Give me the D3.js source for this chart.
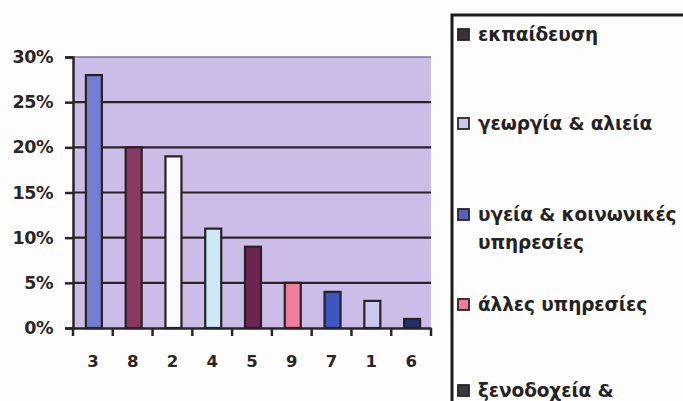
<!DOCTYPE html>
<html>
<head>
<meta charset="utf-8">
<script src="https://cdn.jsdelivr.net/npm/d3@7/dist/d3.min.js"></script>
<style>
  html, body { margin: 0; padding: 0; background: #fdfdfd; }
  svg { display: block; }
</style>
</head>
<body>
<svg id="chart" width="683" height="401"></svg>
<script>
// Sector codes along the x axis and their shares
const categories = ["3", "8", "2", "4", "5", "9", "7", "1", "6"];
const shares = [0.28, 0.20, 0.19, 0.11, 0.09, 0.05, 0.04, 0.03, 0.01];
const barColors = ["#717ed2", "#8a3a62", "#fbfbfd", "#cde9f8", "#6c2450", "#f17c9c", "#3c56c2", "#cbc8f2", "#22306e"];
const yTicks = [0, 0.05, 0.10, 0.15, 0.20, 0.25, 0.30];

// Legend entries (one of them wraps onto two lines)
const legendLabels = [["εκπαίδευση"], ["γεωργία & αλιεία"], ["υγεία & κοινωνικές", "υπηρεσίες"], ["άλλες υπηρεσίες"], ["ξενοδοχεία &"]];
const legendColors = ["#3a3238", "#c9c6ef", "#5561c4", "#f17c9c", "#3a3a3e"];

const FONT = "'DejaVu Sans', 'Liberation Sans', Arial, sans-serif";
const INK = "#2a2626";

const svg = d3.select("#chart");
const plot = { left: 73, right: 431, top: 57, bottom: 328 };

const x = d3.scaleBand().domain(categories).range([plot.left, plot.right]).padding(0);
const y = d3.scaleLinear().domain([0, 0.30]).range([plot.bottom, plot.top]);

// plot area background
svg.append("rect")
  .attr("x", plot.left).attr("y", plot.top)
  .attr("width", plot.right - plot.left).attr("height", plot.bottom - plot.top)
  .attr("fill", "#cbbce8");

// top edge of plot area
svg.append("line")
  .attr("x1", plot.left).attr("x2", plot.right)
  .attr("y1", plot.top).attr("y2", plot.top)
  .attr("stroke", "#7e7888").attr("stroke-width", 1.5);

// horizontal gridlines
svg.append("g").selectAll("line")
  .data(yTicks.filter(t => t > 0 && t < 0.30))
  .join("line")
  .attr("x1", plot.left).attr("x2", plot.right)
  .attr("y1", d => y(d)).attr("y2", d => y(d))
  .attr("stroke", "#2c2424").attr("stroke-width", 2.2);

// bars
const barW = 16;
svg.append("g").selectAll("rect")
  .data(categories.map((c, i) => ({ c, v: shares[i], col: barColors[i] })))
  .join("rect")
  .attr("x", d => x(d.c) + x.bandwidth() / 2 - barW / 2 + 1)
  .attr("y", d => y(d.v))
  .attr("width", barW)
  .attr("height", d => y(0) - y(d.v))
  .attr("fill", d => d.col)
  .attr("stroke", "#2a2222").attr("stroke-width", 2.2);

// y axis
const yAxis = d3.axisLeft(y).tickValues(yTicks).tickFormat(d3.format(".0%")).tickSize(8).tickPadding(12);
const gy = svg.append("g").attr("transform", `translate(${plot.left},0)`).call(yAxis);
gy.select(".domain").attr("stroke", INK).attr("stroke-width", 2.5);
gy.selectAll(".tick line").attr("stroke", INK).attr("stroke-width", 2.5);
gy.selectAll(".tick text")
  .attr("font-family", FONT).attr("font-weight", "bold").attr("font-size", 17.5)
  .attr("letter-spacing", -0.5).attr("fill", INK);

// x axis
const xAxis = d3.axisBottom(x).tickSize(0).tickPadding(27);
const gx = svg.append("g").attr("transform", `translate(0,${plot.bottom})`).call(xAxis);
gx.select(".domain").attr("stroke", INK).attr("stroke-width", 2.5);
gx.selectAll(".tick text")
  .attr("font-family", FONT).attr("font-weight", "bold").attr("font-size", 16.5).attr("fill", INK);
// category separators below the axis
const edges = categories.map(c => x(c)).concat([plot.right]);
svg.append("g").selectAll("line")
  .data(edges).join("line")
  .attr("x1", d => d).attr("x2", d => d)
  .attr("y1", plot.bottom).attr("y2", plot.bottom + 8)
  .attr("stroke", INK).attr("stroke-width", 2.5);

// legend box (extends past the right and bottom edges)
const lg = { left: 452, top: 15 };
svg.append("path")
  .attr("d", `M683,${lg.top} L${lg.left},${lg.top} L${lg.left},401`)
  .attr("fill", "none").attr("stroke", "#1e1a1a").attr("stroke-width", 3);

const legendY = [35, 124, 215, 305, 391];
const items = svg.append("g").selectAll("g")
  .data(legendLabels.map((l, i) => ({ l, col: legendColors[i], y: legendY[i] })))
  .join("g")
  .attr("transform", d => `translate(${lg.left + 6},${d.y})`);
items.append("rect")
  .attr("x", 0).attr("y", -6).attr("width", 11).attr("height", 11)
  .attr("fill", d => d.col).attr("stroke", "#2a2424").attr("stroke-width", 1.8);
items.append("text")
  .attr("x", 20).attr("y", 0)
  .attr("font-family", FONT).attr("font-weight", "bold").attr("font-size", 18.5)
  .attr("letter-spacing", -0.1).attr("fill", "#262222")
  .selectAll("tspan")
  .data(d => d.l)
  .join("tspan")
  .attr("x", 20).attr("dy", (d, i) => i === 0 ? "0.33em" : "1.5em")
  .text(d => d);
</script>
</body>
</html>
